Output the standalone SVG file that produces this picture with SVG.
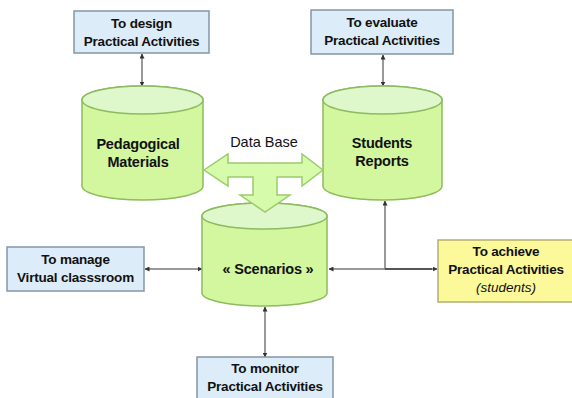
<svg xmlns="http://www.w3.org/2000/svg" width="572" height="398" viewBox="0 0 572 398">
<defs>
<marker id="ah" viewBox="0 0 10 10" refX="9" refY="5" markerWidth="5" markerHeight="5" markerUnits="userSpaceOnUse" orient="auto-start-reverse">
<path d="M0,0 L10,5 L0,10 Z" fill="#333"/>
</marker>
<style>
.box{fill:#dcecf8;stroke:#8497a8;stroke-width:1.5}
.ybox{fill:#fbf99a;stroke:#b3b070;stroke-width:1.5}
.body{fill:#d2f79e;stroke:#8dbb5e;stroke-width:1.5}
.top{fill:#def8cc;stroke:#8dbb5e;stroke-width:1.5}
.bt{font-family:"Liberation Sans",Arial,sans-serif;font-weight:bold;font-size:13.5px;fill:#111;text-anchor:middle;letter-spacing:-0.2px}
.ct{font-family:"Liberation Sans",Arial,sans-serif;font-weight:bold;font-size:14.5px;fill:#111;text-anchor:middle;letter-spacing:-0.2px}
.it{font-family:"Liberation Sans",Arial,sans-serif;font-style:italic;font-size:13.5px;fill:#111;text-anchor:middle}
.conn{stroke:#777;stroke-width:1.5;fill:none}
</style>
</defs>
<rect width="572" height="398" fill="#fff"/>

<g id="connectors">
<line class="conn" x1="142" y1="54" x2="142" y2="86" marker-start="url(#ah)" marker-end="url(#ah)"/>
<line class="conn" x1="383" y1="55" x2="383" y2="86" marker-start="url(#ah)" marker-end="url(#ah)"/>
<line class="conn" x1="145" y1="269" x2="202" y2="269" marker-start="url(#ah)" marker-end="url(#ah)"/>
<line class="conn" x1="265" y1="307" x2="265" y2="357" marker-start="url(#ah)" marker-end="url(#ah)"/>
<line class="conn" x1="329" y1="269" x2="437" y2="269" marker-start="url(#ah)" marker-end="url(#ah)"/>
<line class="conn" x1="385" y1="269" x2="385" y2="201" marker-end="url(#ah)"/>
<line x1="385" y1="269" x2="432" y2="269" stroke="#555" stroke-width="2"/>
</g>

<g id="design">
<rect class="box" x="74" y="11" width="135" height="42"/>
<text class="bt" x="141.5" y="28">To design</text>
<text class="bt" x="141.5" y="46">Practical Activities</text>
</g>

<g id="evaluate">
<rect class="box" x="311" y="10" width="142" height="44"/>
<text class="bt" x="382" y="27">To evaluate</text>
<text class="bt" x="382" y="45">Practical Activities</text>
</g>

<g id="pedagogical">
<path class="body" d="M82,100 A60.5,14 0 0 1 203,100 V186 A60.5,14 0 0 1 82,186 Z"/>
<ellipse class="top" cx="142.5" cy="100" rx="60.5" ry="14"/>
<text class="ct" x="138" y="149">Pedagogical</text>
<text class="ct" x="138" y="167">Materials</text>
</g>

<g id="reports">
<path class="body" d="M323,100 A59.5,14 0 0 1 442,100 V186 A59.5,14 0 0 1 323,186 Z"/>
<ellipse class="top" cx="382.5" cy="100" rx="59.5" ry="14"/>
<text class="ct" x="382" y="148">Students</text>
<text class="ct" x="382" y="166">Reports</text>
</g>

<g id="scenarios">
<path class="body" d="M202,216 A62.5,13 0 0 1 327,216 V293 A62.5,13 0 0 1 202,293 Z"/>
<ellipse class="top" cx="264.5" cy="216" rx="62.5" ry="13"/>
<text class="ct" x="268" y="274">« Scenarios »</text>
</g>

<g id="database">
<polygon fill="#d6fbaa" stroke="#9ccb6c" stroke-width="1.5" points="204,170 228,154 228,163 302,163 302,154 323,170 302,186 302,177 277,177 277,195 290,195 265,212 240,195 253,195 253,177 228,177 228,186"/>
<text x="264" y="147" font-family="'Liberation Sans',Arial,sans-serif" font-size="14.5" fill="#111" text-anchor="middle">Data Base</text>
</g>

<g id="manage">
<rect class="box" x="7" y="247" width="137" height="44"/>
<text class="bt" x="75.5" y="264">To manage</text>
<text class="bt" x="75.5" y="282">Virtual classsroom</text>
</g>

<g id="monitor">
<rect class="box" x="197" y="357" width="136" height="44"/>
<text class="bt" x="265" y="373">To monitor</text>
<text class="bt" x="265" y="391">Practical Activities</text>
</g>

<g id="achieve">
<rect class="ybox" x="438" y="240" width="136" height="62"/>
<text class="bt" x="506" y="256">To achieve</text>
<text class="bt" x="506" y="274">Practical Activities</text>
<text class="it" x="506" y="292">(students)</text>
</g>
</svg>
